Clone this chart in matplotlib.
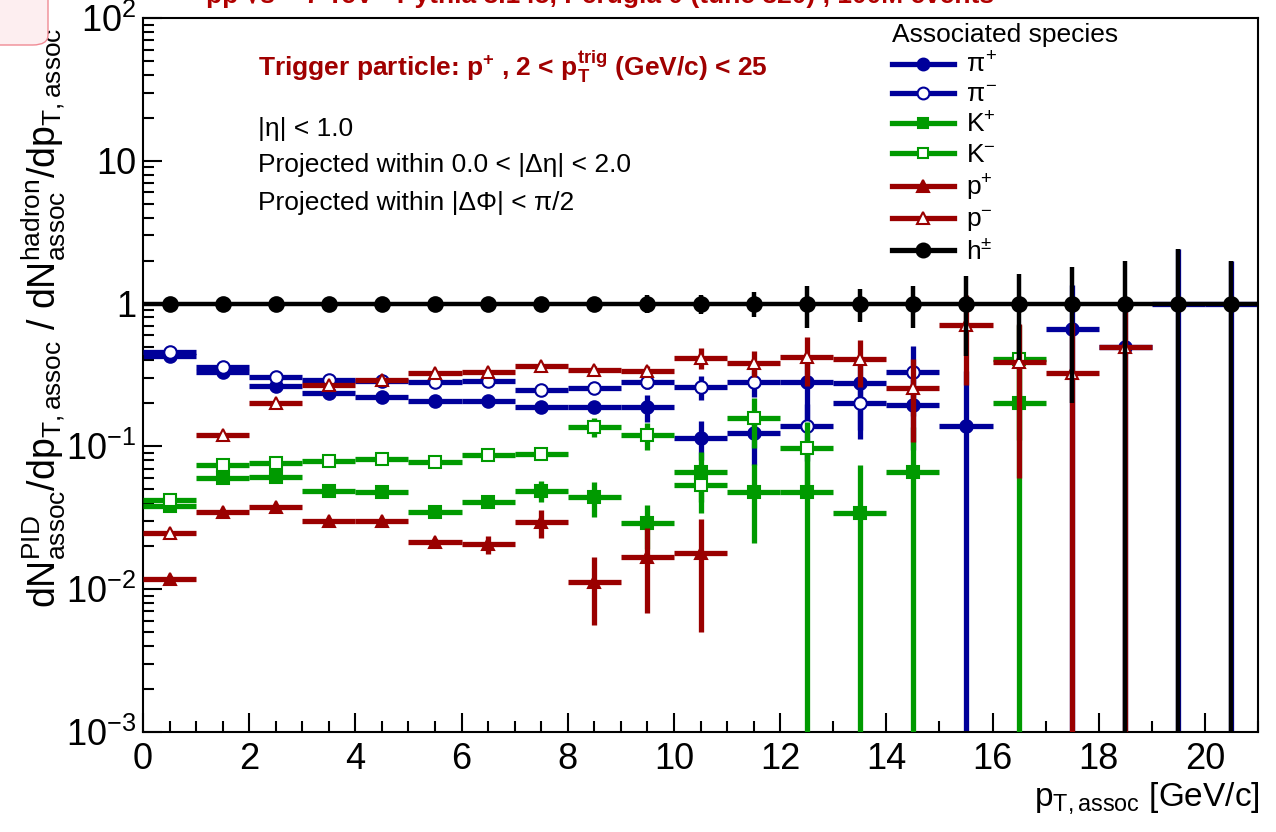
import numpy as np
import matplotlib
matplotlib.use('Agg')
import matplotlib.pyplot as plt
from matplotlib.lines import Line2D
from matplotlib.patches import FancyBboxPatch
from matplotlib.ticker import MultipleLocator, LogLocator, NullFormatter

plt.rcParams['font.family'] = ['Liberation Sans', 'DejaVu Sans']
plt.rcParams['mathtext.fontset'] = 'custom'
plt.rcParams['mathtext.rm'] = 'Liberation Sans'
plt.rcParams['mathtext.it'] = 'Liberation Sans'
plt.rcParams['mathtext.sf'] = 'Liberation Sans'
plt.rcParams['mathtext.bf'] = 'Liberation Sans:bold'

NA = np.nan

# bin centres of p_T,assoc (GeV/c), 1 GeV wide bins
pt_bins = [0.5, 1.5, 2.5, 3.5, 4.5, 5.5, 6.5, 7.5, 8.5, 9.5, 10.5,
           11.5, 12.5, 13.5, 14.5, 15.5, 16.5, 17.5, 18.5, 19.5, 20.5]

pip = [0.43, 0.33, 0.265, 0.237, 0.222, 0.209, 0.209, 0.189, 0.189, 0.189, 0.115,
       0.124, 0.283, 0.28, 0.195, 0.139, NA, 0.66, 0.5, 1.0, 1.0]
pip_err = [0.01, 0.008, 0.006, 0.006, 0.006, 0.007, 0.008, 0.01, 0.015, 0.04, 0.035,
           0.05, 0.15, 0.15, 0.1, 0.2, NA, 0.7, 0.6, 1.4, 1.0]

pim = [0.46, 0.36, 0.307, 0.292, 0.285, 0.283, 0.285, 0.249, 0.257, 0.283, 0.262,
       0.283, 0.139, 0.202, 0.333, NA, NA, NA, NA, NA, NA]
pim_err = [0.01, 0.008, 0.006, 0.006, 0.006, 0.007, 0.008, 0.01, 0.015, 0.03, 0.05,
           0.06, 0.06, 0.09, 0.17, NA, NA, NA, NA, NA, NA]

kp = [0.038, 0.060, 0.061, 0.049, 0.048, 0.035, 0.041, 0.049, 0.044, 0.029, 0.066,
      0.048, 0.048, 0.034, 0.066, NA, 0.2, NA, NA, NA, NA]
kp_err = [0.002, 0.002, 0.002, 0.002, 0.002, 0.002, 0.003, 0.008, 0.012, 0.01, 0.025,
          0.027, 0.06, 0.04, 0.07, NA, 0.25, NA, NA, NA, NA]

km = [0.042, 0.074, 0.077, 0.079, 0.081, 0.078, 0.087, 0.089, 0.137, 0.12, 0.054,
      0.158, 0.098, NA, NA, NA, 0.41, NA, NA, NA, NA]
km_err = [0.003, 0.003, 0.003, 0.003, 0.003, 0.003, 0.004, 0.006, 0.02, 0.025, 0.02,
          0.06, 0.05, NA, NA, NA, 0.3, NA, NA, NA, NA]

pp = [0.0118, 0.0347, 0.0376, 0.030, 0.030, 0.0215, 0.0207, 0.0295, 0.0112, 0.0168, 0.018,
      NA, NA, NA, NA, NA, NA, NA, NA, NA, NA]
pp_err = [0.0005, 0.001, 0.001, 0.001, 0.001, 0.001, 0.003, 0.0065, 0.0056, 0.01, 0.013,
          NA, NA, NA, NA, NA, NA, NA, NA, NA, NA]

pm = [0.0247, 0.12, 0.202, 0.27, 0.293, 0.325, 0.33, 0.365, 0.344, 0.335, 0.418,
      0.385, 0.425, 0.41, 0.257, 0.71, 0.39, 0.328, 0.5, NA, NA]
pm_err = [0.001, 0.004, 0.006, 0.006, 0.007, 0.008, 0.01, 0.012, 0.02, 0.03, 0.07,
          0.08, 0.16, 0.15, 0.15, 0.44, 0.33, 0.4, 0.6, NA, NA]

hadron = [1.0] * 21
hadron_err = [0.01, 0.01, 0.01, 0.012, 0.015, 0.02, 0.025, 0.03, 0.06, 0.14, 0.15,
              0.2, 0.33, 0.26, 0.33, 0.57, 0.6, 0.8, 1.0, 1.4, 1.0]

blue = '#00009a'
green = '#009a00'
red = '#9a0000'

species = [
    (pip, pip_err, blue, 'o', True, r'$\pi^{+}$', 9),
    (pim, pim_err, blue, 'o', False, r'$\pi^{-}$', 9),
    (kp, kp_err, green, 's', True, r'K$^{+}$', 8),
    (km, km_err, green, 's', False, r'K$^{-}$', 8),
    (pp, pp_err, red, '^', True, r'p$^{+}$', 9),
    (pm, pm_err, red, '^', False, r'p$^{-}$', 9),
    (hadron, hadron_err, 'black', 'o', True, r'h$^{\pm}$', 10.5),
]

fig = plt.figure(figsize=(12.76, 8.32), dpi=100)
ax = fig.add_axes([143/1276, 100/832, 1115/1276, 714/832])
ax.set_yscale('log')

handles = []
for i, (vals, errs, col, mk, filled, lab, ms) in enumerate(species):
    x = np.array(pt_bins)
    v = np.array(vals, dtype=float)
    e = np.array(errs, dtype=float)
    ok = ~np.isnan(v)
    x, v, e = x[ok], v[ok], e[ok]
    lo = np.minimum(e, v - 1e-6)  # bars below zero run to the axis
    lw = 3.2 if col == 'black' else 3.8
    ax.errorbar(x, v, yerr=[lo, e], xerr=0.5, fmt='none', ecolor=col,
                elinewidth=lw, capsize=0, zorder=2 + i)
    ax.plot(x, v, linestyle='none', marker=mk, ms=ms, color=col,
            mfc=col if filled else 'white', mec=col, mew=1.5, zorder=2.5 + i)
    handles.append(Line2D([], [], color=col, lw=3.8, marker=mk, ms=ms - 0.5,
                          mfc=col if filled else 'white', mec=col, mew=1.5, label=lab))

ax.set_xlim(0, 21)
ax.set_ylim(1e-3, 1e2)
ax.xaxis.set_major_locator(MultipleLocator(2))
ax.xaxis.set_minor_locator(MultipleLocator(0.5))
ax.set_yticks([1e-3, 1e-2, 1e-1, 1, 10, 100])
ax.set_yticklabels([r'$10^{-3}$', r'$10^{-2}$', r'$10^{-1}$', '1', '10', r'$10^{2}$'])
ax.yaxis.set_minor_locator(LogLocator(base=10, subs=np.arange(2, 10)))
ax.yaxis.set_minor_formatter(NullFormatter())
ax.tick_params(which='both', direction='in', top=False, right=False, width=1.5)
ax.tick_params(which='major', length=14)
ax.tick_params(which='minor', length=8)
ax.tick_params(axis='x', labelsize=26, pad=7)
ax.tick_params(axis='y', labelsize=26, pad=5)
for s in ax.spines.values():
    s.set_linewidth(1.5)

# axis titles
fig.text(44/1276, 1 - 318/832,
         r'dN$^{\rm PID}_{\rm assoc}$/dp$_{\rm T,assoc}$ / dN$^{\rm hadron}_{\rm assoc}$/dp$_{\rm T,assoc}$',
         rotation=90, ha='center', va='center', fontsize=27)
fig.text(1260/1276, 1 - 806/832, r'p$_{\rm T,assoc}$ [GeV/c]', ha='right',
         va='baseline', fontsize=24)

# cut-off header
fig.text(600/1276, 1 - 3/832,
         'pp \u221as = 7 TeV - Pythia 8.145, Perugia 0 (tune 320) , 100M events',
         ha='center', va='baseline', fontsize=19, fontweight='bold', color='#b00000')

# annotations
fig.text(258/1276, 1 - 76/832,
         r'Trigger particle: p$^{\mathbf{+}}$ , 2 < p$_{\mathbf{T}}^{\mathbf{trig}}$ (GeV/c) < 25',
         fontsize=19, fontweight='bold', color='#a00000', va='baseline')
fig.text(258/1276, 1 - 136/832, '|\u03b7| < 1.0', fontsize=19, va='baseline')
fig.text(258/1276, 1 - 172/832, 'Projected within 0.0 < |\u0394\u03b7| < 2.0',
         fontsize=19, va='baseline')
fig.text(258/1276, 1 - 210/832, 'Projected within |\u0394\u03a6| < \u03c0/2',
         fontsize=19, va='baseline')

leg = ax.legend(handles=handles, title='Associated species', loc='upper left',
                bbox_to_anchor=(887/1276, 1 - 18/832), bbox_transform=fig.transFigure,
                frameon=False, fontsize=19, title_fontsize=19, handlelength=2.35,
                handletextpad=0.45, labelspacing=0.2, alignment='left',
                borderaxespad=0, borderpad=0.2)

# pink tab in the corner of the screenshot
tab = FancyBboxPatch((-30/1276, 1 - 45/832), 78/1276, 80/832,
                     boxstyle='round,pad=0,rounding_size=0.012',
                     transform=fig.transFigure, facecolor='#fdeef0',
                     edgecolor='#f08a94', linewidth=1, zorder=10)
fig.add_artist(tab)

fig.savefig('out.png', dpi=100)
